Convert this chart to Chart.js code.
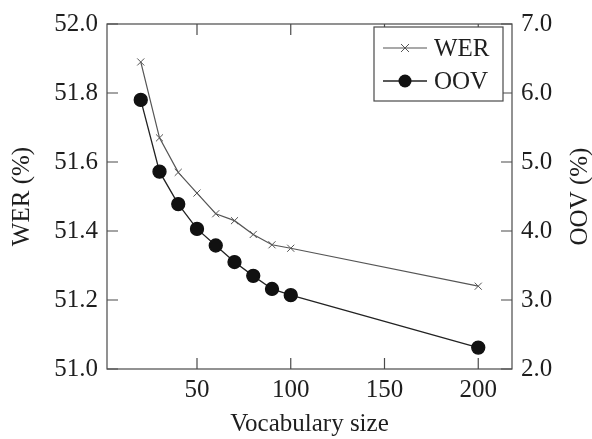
<!DOCTYPE html>
<html lang="en">
<head>
  <meta charset="UTF-8" />
  <title>WER / OOV vs vocabulary size</title>
  <script src="https://cdn.jsdelivr.net/npm/chart.js"></script>
  <style>
    body { margin: 0; background: white; }
    #wrap { width: 592px; height: 439px; }
  </style>
</head>
<body>
<div id="wrap"><canvas id="grafica"></canvas></div>
<script>
  // datos
  const vocab = [20, 30, 40, 50, 60, 70, 80, 90, 100, 200];
  const wer = [51.89, 51.67, 51.57, 51.51, 51.45, 51.43, 51.39, 51.36, 51.35, 51.24];
  const oov = [5.90, 4.86, 4.39, 4.03, 3.79, 3.55, 3.35, 3.16, 3.07, 2.31];
  const xTicks = [50, 100, 150, 200];
  const werTicks = [51.0, 51.2, 51.4, 51.6, 51.8, 52.0];
  const oovTicks = [2.0, 3.0, 4.0, 5.0, 6.0, 7.0];

  const serif = '"Liberation Serif", "DejaVu Serif", serif';
  const ink = '#1e1e1e';
  const frameColor = '#4a4a4a';

  function toPoints(ys) {
    return vocab.map((v, i) => ({ x: v, y: ys[i] }));
  }

  function verticalTitle(ctx, text, x, y) {
    ctx.save();
    ctx.translate(x, y);
    ctx.rotate(-Math.PI / 2);
    ctx.fillStyle = ink;
    ctx.font = '25px ' + serif;
    ctx.textAlign = 'center';
    ctx.textBaseline = 'middle';
    ctx.fillText(text, 0, 0);
    ctx.restore();
  }

  // marco estilo pgfplots con ticks hacia adentro
  const framePlugin = {
    id: 'frame',
    afterDatasetsDraw(chart) {
      const { ctx, chartArea: a, scales } = chart;
      const len = 11;
      ctx.save();
      ctx.strokeStyle = frameColor;
      ctx.lineWidth = 1.2;
      ctx.strokeRect(a.left, a.top, a.right - a.left, a.bottom - a.top);
      ctx.beginPath();
      xTicks.forEach(t => {
        const px = scales.x.getPixelForValue(t);
        ctx.moveTo(px, a.bottom); ctx.lineTo(px, a.bottom - len);
        ctx.moveTo(px, a.top); ctx.lineTo(px, a.top + len);
      });
      werTicks.forEach(t => {
        const py = scales.y.getPixelForValue(t);
        ctx.moveTo(a.left, py); ctx.lineTo(a.left + len, py);
      });
      oovTicks.forEach(t => {
        const py = scales.y2.getPixelForValue(t);
        ctx.moveTo(a.right, py); ctx.lineTo(a.right - len, py);
      });
      ctx.stroke();
      ctx.restore();
    },
    afterDraw(chart) {
      const { ctx, chartArea: a } = chart;
      const midY = (a.top + a.bottom) / 2;
      verticalTitle(ctx, 'WER (%)', 22, midY);
      verticalTitle(ctx, 'OOV (%)', 580, midY);

      // leyenda dentro del gráfico
      const bx = 374, by = 27, bw = 129, bh = 74;
      ctx.save();
      ctx.fillStyle = 'white';
      ctx.fillRect(bx, by, bw, bh);
      ctx.strokeStyle = frameColor;
      ctx.lineWidth = 1.2;
      ctx.strokeRect(bx, by, bw, bh);
      const rows = [
        { label: 'WER', y: by + 21, ds: chart.data.datasets[0] },
        { label: 'OOV', y: by + 54, ds: chart.data.datasets[1] }
      ];
      rows.forEach(r => {
        ctx.strokeStyle = r.ds.borderColor;
        ctx.lineWidth = r.ds.borderWidth;
        ctx.beginPath();
        ctx.moveTo(bx + 9, r.y); ctx.lineTo(bx + 53, r.y);
        ctx.stroke();
        const cx = bx + 31;
        if (r.ds.pointStyle === 'crossRot') {
          ctx.lineWidth = 1;
          ctx.beginPath();
          ctx.moveTo(cx - 4, r.y - 4); ctx.lineTo(cx + 4, r.y + 4);
          ctx.moveTo(cx - 4, r.y + 4); ctx.lineTo(cx + 4, r.y - 4);
          ctx.stroke();
        } else {
          ctx.fillStyle = r.ds.pointBackgroundColor;
          ctx.beginPath();
          ctx.arc(cx, r.y, r.ds.pointRadius, 0, Math.PI * 2);
          ctx.fill();
        }
        ctx.fillStyle = ink;
        ctx.font = '25px ' + serif;
        ctx.textBaseline = 'middle';
        ctx.fillText(r.label, bx + 60, r.y + 1);
      });
      ctx.restore();
    }
  };

  new Chart(document.getElementById('grafica'), {
    type: 'line',
    data: {
      datasets: [
        {
          label: 'WER',
          data: toPoints(wer),
          yAxisID: 'y',
          borderColor: '#555555',
          borderWidth: 1.2,
          pointStyle: 'crossRot',
          pointRadius: 5,
          pointBorderColor: '#555555',
          pointBorderWidth: 1,
          tension: 0
        },
        {
          label: 'OOV',
          data: toPoints(oov),
          yAxisID: 'y2',
          borderColor: '#222222',
          borderWidth: 1.3,
          pointStyle: 'circle',
          pointRadius: 6.5,
          pointBackgroundColor: '#111111',
          pointBorderColor: '#111111',
          tension: 0
        }
      ]
    },
    options: {
      responsive: true,
      maintainAspectRatio: false,
      animation: false,
      layout: { padding: { top: 20, right: 0, left: 0, bottom: 0 } },
      plugins: { legend: { display: false }, tooltip: { enabled: false } },
      scales: {
        x: {
          type: 'linear',
          min: 2, max: 218,
          afterBuildTicks: s => { s.ticks = xTicks.map(v => ({ value: v })); },
          afterFit: s => { s.height = 70; },
          grid: { display: false, drawTicks: false },
          border: { display: false },
          ticks: { color: ink, font: { family: serif, size: 25 }, padding: 6, maxRotation: 0 },
          title: { display: true, text: 'Vocabulary size', color: ink, font: { family: serif, size: 25 }, padding: { top: 0, bottom: 0 } }
        },
        y: {
          position: 'left',
          min: 51.0, max: 52.0,
          afterBuildTicks: s => { s.ticks = werTicks.map(v => ({ value: v })); },
          afterFit: s => { s.width = 107; },
          grid: { display: false, drawTicks: false },
          border: { display: false },
          ticks: { color: ink, font: { family: serif, size: 25 }, padding: 9, callback: v => v.toFixed(1) }
        },
        y2: {
          position: 'right',
          min: 2.0, max: 7.0,
          afterBuildTicks: s => { s.ticks = oovTicks.map(v => ({ value: v })); },
          afterFit: s => { s.width = 80; },
          grid: { display: false, drawTicks: false },
          border: { display: false },
          ticks: { color: ink, font: { family: serif, size: 25 }, padding: 9, callback: v => v.toFixed(1) }
        }
      }
    },
    plugins: [framePlugin]
  });
</script>
</body>
</html>
